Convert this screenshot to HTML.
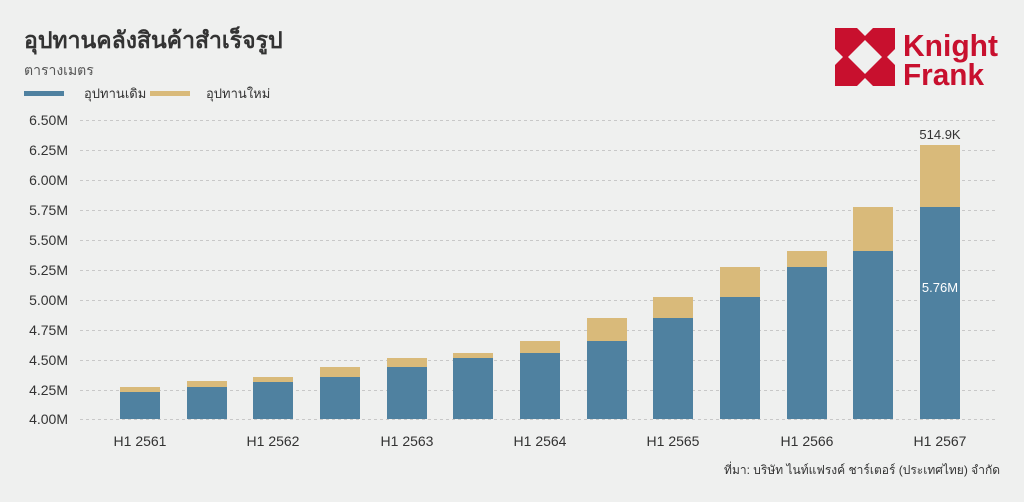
<!DOCTYPE html>
<html><head><meta charset="utf-8"><style>
html,body{margin:0;padding:0;background:#eff0ef;overflow:hidden;}
svg{display:block;}
svg text{font-family:"Liberation Sans","Noto Sans CJK SC",sans-serif;}
</style></head><body>
<svg width="1024" height="502" xmlns="http://www.w3.org/2000/svg">
<rect width="1024" height="502" fill="#eff0ef"/>
<text x="24" y="48" font-size="23" font-weight="bold" fill="#333">อุปทานคลังสินค้าสำเร็จรูป</text>
<text x="24" y="75" font-size="14" fill="#555">ตารางเมตร</text>
<rect x="24" y="91" width="40" height="5" fill="#4f81a0"/>
<text x="84" y="98" font-size="13" fill="#333">อุปทานเดิม</text>
<rect x="150" y="91" width="40" height="5" fill="#d9ba7a"/>
<text x="206" y="98" font-size="13" fill="#333">อุปทานใหม่</text>
<g fill="#c8102e">
<path d="M835 28H895V86H835Z M865 40L882 57L865 74L848 57Z M857 28L873 28L865 36Z M857 86L873 86L865 78Z M835 49L835 65L843 57Z M895 49L895 65L887 57Z" fill-rule="evenodd"/>
<text x="903" y="56" font-size="31" font-weight="bold" textLength="95" lengthAdjust="spacingAndGlyphs" font-family="Liberation Sans, sans-serif">Knight</text>
<text x="903" y="85" font-size="31" font-weight="bold" textLength="81" lengthAdjust="spacingAndGlyphs" font-family="Liberation Sans, sans-serif">Frank</text>
</g>
<g stroke="#c8c8c8" stroke-dasharray="3,3" stroke-width="1">
<line x1="80" x2="998" y1="120.5" y2="120.5"/><line x1="80" x2="998" y1="150.5" y2="150.5"/>
<line x1="80" x2="998" y1="180.5" y2="180.5"/><line x1="80" x2="998" y1="210.5" y2="210.5"/>
<line x1="80" x2="998" y1="240.5" y2="240.5"/><line x1="80" x2="998" y1="270.5" y2="270.5"/>
<line x1="80" x2="998" y1="300.5" y2="300.5"/><line x1="80" x2="998" y1="330.5" y2="330.5"/>
<line x1="80" x2="998" y1="360.5" y2="360.5"/><line x1="80" x2="998" y1="390.5" y2="390.5"/>
<line x1="80" x2="998" y1="419.5" y2="419.5"/>
</g>
<g font-size="14" fill="#333" text-anchor="end">
<text x="68" y="125">6.50M</text><text x="68" y="155">6.25M</text><text x="68" y="185">6.00M</text>
<text x="68" y="215">5.75M</text><text x="68" y="245">5.50M</text><text x="68" y="275">5.25M</text>
<text x="68" y="305">5.00M</text><text x="68" y="335">4.75M</text><text x="68" y="365">4.50M</text>
<text x="68" y="395">4.25M</text><text x="68" y="424">4.00M</text>
</g>
<g fill="#4f81a0">
<rect x="120" y="392" width="40" height="27"/><rect x="187" y="387" width="40" height="32"/>
<rect x="253" y="382" width="40" height="37"/><rect x="320" y="377" width="40" height="42"/>
<rect x="387" y="367" width="40" height="52"/><rect x="453" y="358" width="40" height="61"/>
<rect x="520" y="353" width="40" height="66"/><rect x="587" y="341" width="40" height="78"/>
<rect x="653" y="318" width="40" height="101"/><rect x="720" y="297" width="40" height="122"/>
<rect x="787" y="267" width="40" height="152"/><rect x="853" y="251" width="40" height="168"/>
<rect x="920" y="207" width="40" height="212"/>
</g>
<g fill="#d9ba7a">
<rect x="120" y="387" width="40" height="5"/><rect x="187" y="381" width="40" height="6"/>
<rect x="253" y="377" width="40" height="5"/><rect x="320" y="367" width="40" height="10"/>
<rect x="387" y="358" width="40" height="9"/><rect x="453" y="353" width="40" height="5"/>
<rect x="520" y="341" width="40" height="12"/><rect x="587" y="318" width="40" height="23"/>
<rect x="653" y="297" width="40" height="21"/><rect x="720" y="267" width="40" height="30"/>
<rect x="787" y="251" width="40" height="16"/><rect x="853" y="207" width="40" height="44"/>
<rect x="920" y="145" width="40" height="62"/>
</g>
<text x="940" y="139" font-size="13" fill="#333" text-anchor="middle">514.9K</text>
<text x="940" y="292" font-size="13" fill="#fff" text-anchor="middle">5.76M</text>
<g font-size="14" fill="#333" text-anchor="middle">
<text x="140" y="446">H1 2561</text><text x="273" y="446">H1 2562</text><text x="407" y="446">H1 2563</text>
<text x="540" y="446">H1 2564</text><text x="673" y="446">H1 2565</text><text x="807" y="446">H1 2566</text>
<text x="940" y="446">H1 2567</text>
</g>
<text x="1000" y="474" font-size="12" fill="#333" text-anchor="end">ที่มา: บริษัท ไนท์แฟรงค์ ชาร์เตอร์ (ประเทศไทย) จำกัด</text>
</svg>
</body></html>
